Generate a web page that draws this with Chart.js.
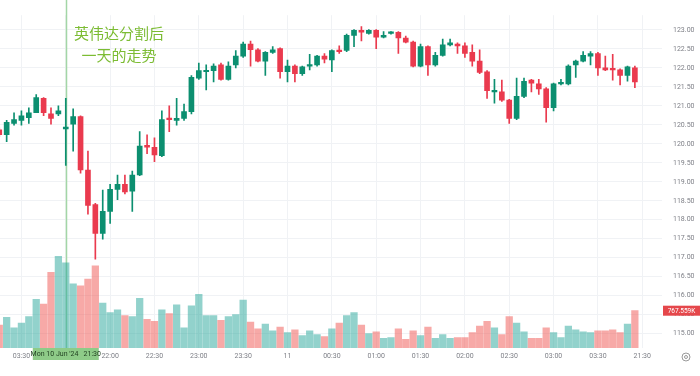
<!DOCTYPE html>
<html>
<head>
<meta charset="utf-8">
<script src="https://cdn.jsdelivr.net/npm/chart.js@4.4.1/dist/chart.umd.min.js"></script>
<style>
    html, body { margin: 0; padding: 0; background: #ffffff; }
    #wrap { position: relative; width: 700px; height: 376px; }
</style>
</head>
<body>
<div id="wrap"><canvas id="nvdaChart"></canvas></div>
<script>
const openPrices = [120.37, 120.24, 120.54, 120.62, 120.69, 120.82, 121.20, 120.79, 120.79, 120.39,
    120.52, 120.72, 119.31, 118.40, 117.64, 118.22, 118.80, 118.93, 118.75, 119.18,
    119.96, 119.91, 119.69, 120.67, 120.62, 120.67, 120.85, 121.73, 121.90, 121.93,
    122.08, 121.70, 122.08, 122.31, 122.63, 122.48, 122.18, 122.41, 122.51, 121.90,
    122.05, 121.85, 122.05, 122.08, 122.31, 122.21, 122.46, 122.46, 122.86, 122.99,
    122.91, 122.99, 122.81, 122.91, 122.94, 122.79, 122.68, 122.05, 122.56, 122.08,
    122.33, 122.61, 122.63, 122.58, 122.41, 122.18, 121.90, 121.37, 121.37, 121.15,
    120.67, 121.25, 121.68, 121.58, 121.45, 120.95, 121.58, 121.58, 122.08, 122.18,
    122.31, 122.38, 122.00, 121.98, 121.95, 121.80, 122.00];
const highPrices = [120.42, 120.62, 120.82, 120.87, 120.95, 121.30, 121.22, 120.95, 121.00, 121.20,
    120.92, 120.74, 119.81, 118.43, 118.78, 118.93, 119.18, 119.18, 119.28, 120.32,
    120.24, 120.16, 120.87, 121.00, 121.20, 121.05, 121.80, 122.13, 122.08, 122.11,
    122.13, 122.16, 122.46, 122.68, 122.71, 122.51, 122.43, 122.56, 122.53, 122.21,
    122.08, 122.05, 122.36, 122.33, 122.38, 122.48, 122.58, 122.89, 123.01, 123.09,
    123.01, 123.01, 122.96, 122.96, 122.96, 122.84, 122.71, 122.63, 122.58, 122.41,
    122.76, 122.76, 122.66, 122.66, 122.61, 122.48, 121.93, 121.70, 121.68, 121.17,
    121.73, 121.73, 121.70, 121.70, 121.48, 121.60, 121.70, 122.08, 122.21, 122.43,
    122.43, 122.41, 122.31, 122.36, 121.98, 122.05, 122.05];
const lowPrices = [120.19, 120.06, 120.49, 120.49, 120.54, 120.82, 120.74, 120.52, 120.74, 119.43,
    119.81, 119.23, 118.15, 116.96, 117.49, 117.90, 118.53, 118.68, 118.22, 119.16,
    119.74, 119.53, 119.66, 120.32, 120.49, 120.62, 120.79, 121.70, 121.42, 121.63,
    121.68, 121.68, 122.00, 122.28, 122.05, 122.16, 121.80, 122.38, 121.73, 121.63,
    121.63, 121.80, 121.95, 122.05, 122.13, 121.90, 122.38, 122.43, 122.56, 122.71,
    122.89, 122.51, 122.79, 122.89, 122.38, 122.66, 122.03, 122.03, 121.80, 122.05,
    122.31, 122.58, 122.38, 122.28, 122.05, 121.85, 121.20, 121.07, 121.12, 120.54,
    120.64, 121.22, 121.37, 121.30, 120.57, 120.87, 121.55, 121.55, 121.75, 122.16,
    122.08, 121.80, 121.93, 121.68, 121.55, 121.65, 121.48];
const closePrices = [120.24, 120.57, 120.64, 120.74, 120.82, 121.22, 120.82, 120.67, 120.87, 120.44,
    120.72, 119.31, 118.38, 117.64, 118.22, 118.80, 118.93, 118.73, 119.18, 119.94,
    119.91, 119.71, 120.64, 120.64, 120.67, 120.85, 121.75, 121.93, 121.93, 122.05,
    121.70, 122.05, 122.31, 122.63, 122.48, 122.18, 122.41, 122.48, 121.90, 122.05,
    121.85, 122.03, 122.08, 122.31, 122.23, 122.46, 122.43, 122.86, 122.99, 122.94,
    122.99, 122.81, 122.86, 122.94, 122.79, 122.68, 122.05, 122.56, 122.08, 122.33,
    122.61, 122.66, 122.58, 122.38, 122.18, 121.88, 121.40, 121.40, 121.15, 120.67,
    121.25, 121.65, 121.60, 121.45, 120.95, 121.58, 121.60, 122.05, 122.18, 122.33,
    122.38, 122.00, 121.95, 121.95, 121.80, 122.03, 121.63];
// volume in thousands of shares
const volumes = [472, 630, 413, 512, 649, 1004, 905, 1555, 1889, 1752,
    1319, 1279, 1417, 1692, 925, 728, 787, 669, 649, 1023,
    590, 551, 787, 708, 886, 413, 866, 1102, 669, 669,
    571, 649, 689, 984, 531, 394, 492, 354, 433, 315,
    374, 256, 354, 276, 236, 394, 512, 669, 728, 472,
    295, 335, 197, 216, 394, 177, 354, 256, 433, 197,
    276, 197, 216, 216, 315, 453, 551, 413, 276, 649,
    512, 335, 197, 197, 413, 315, 216, 453, 374, 335,
    315, 354, 354, 374, 315, 492, 767.559];

const tickSlots = [3, 9, 15, 21, 27, 33, 39, 45, 51, 57, 63, 69, 75, 81, 87];
const tickLabels = ['03:30', '', '22:00', '22:30', '23:00', '23:30', '11', '00:30',
    '01:00', '01:30', '02:00', '02:30', '03:00', '03:30', '21:30'];
const priceTicks = [115, 115.5, 116, 116.5, 117, 117.5, 118, 118.5, 119, 119.5,
    120, 120.5, 121, 121.5, 122, 122.5, 123];
const markerSlot = 9;
const markerLabel = "Mon 10 Jun '24   21:30";
const noteLines = ['英伟达分割后', '一天的走势'];

const upColor = '#0c8f70';
const downColor = '#ea3a4e';
const upVolColor = 'rgba(38, 166, 154, 0.5)';
const downVolColor = 'rgba(239, 83, 80, 0.5)';
const gridColor = '#f0f2f5';
const axisFont = { family: 'Roboto, "Liberation Sans", sans-serif', size: 7 };

const isUp = openPrices.map((o, i) => closePrices[i] >= o);

const overlayPlugin = {
    id: 'overlay',
    beforeDatasetsDraw(chart) {
        const c = chart.ctx;
        const x = Math.round(chart.scales.x.getPixelForValue(markerSlot)) + 0.5;
        c.save();
        c.strokeStyle = '#a3d6a6';
        c.lineWidth = 1.5;
        c.beginPath();
        c.moveTo(x, 0);
        c.lineTo(x, chart.chartArea.bottom);
        c.stroke();
        c.restore();
    },
    afterDraw(chart) {
        const c = chart.ctx;
        const area = chart.chartArea;
        const x = chart.scales.x.getPixelForValue(markerSlot);
        c.save();

        // time label of the marked candle
        c.fillStyle = '#8ecb88';
        c.fillRect(x - 33, area.bottom, 66, 12);
        c.fillStyle = '#1f3d1f';
        c.font = '7px Roboto, "Liberation Sans", sans-serif';
        c.textAlign = 'center';
        c.textBaseline = 'middle';
        c.fillText(markerLabel, x, area.bottom + 6.5);

        // note
        c.fillStyle = '#7cbc33';
        c.font = '15px "Noto Sans CJK SC", sans-serif';
        c.fillText(noteLines[0], 119, 33);
        c.fillText(noteLines[1], 119, 55);

        // last volume label
        const last = volumes[volumes.length - 1];
        const vy = chart.scales.yv.getPixelForValue(last);
        c.fillStyle = '#e5474b';
        c.fillRect(area.right + 1, vy - 5, 37, 10);
        c.fillStyle = '#ffffff';
        c.font = '6.5px Roboto, "Liberation Sans", sans-serif';
        c.fillText(last.toFixed(3) + 'K', area.right + 19.5, vy + 0.5);

        // settings icon
        c.strokeStyle = '#9a9a9a';
        c.lineWidth = 1;
        c.beginPath();
        c.arc(686, 357, 4, 0, Math.PI * 2);
        c.stroke();
        c.beginPath();
        c.arc(686, 357, 1.5, 0, Math.PI * 2);
        c.stroke();
        c.restore();
    }
};

const ctx = document.getElementById('nvdaChart').getContext('2d');
new Chart(ctx, {
    type: 'bar',
    data: {
        datasets: [{
            label: 'Body',
            data: openPrices.map((o, i) => ({ x: i, y: [o, closePrices[i]] })),
            backgroundColor: isUp.map(u => u ? upColor : downColor),
            barThickness: 5,
            minBarLength: 1.5,
            yAxisID: 'y',
            order: 1
        }, {
            label: 'Wick',
            data: lowPrices.map((l, i) => ({ x: i, y: [l, highPrices[i]] })),
            backgroundColor: isUp.map(u => u ? upColor : downColor),
            barThickness: 1,
            yAxisID: 'y',
            order: 2
        }, {
            label: 'Volume',
            data: volumes.map((v, i) => ({ x: i, y: v })),
            backgroundColor: isUp.map(u => u ? upVolColor : downVolColor),
            barThickness: 6.6,
            yAxisID: 'yv',
            order: 3
        }]
    },
    options: {
        responsive: true,
        maintainAspectRatio: false,
        animation: false,
        layout: { padding: 0 },
        datasets: { bar: { grouped: false } },
        plugins: {
            legend: { display: false },
            tooltip: { enabled: false }
        },
        scales: {
            x: {
                type: 'linear',
                min: 0.1,
                max: 89.67,
                offset: false,
                grid: { offset: false, color: gridColor, drawTicks: false },
                border: { display: false },
                afterBuildTicks: scale => {
                    scale.ticks = tickSlots.map(v => ({ value: v }));
                },
                afterFit: scale => { scale.height = 28; },
                ticks: {
                    autoSkip: false,
                    maxRotation: 0,
                    padding: 4,
                    color: '#7d7f86',
                    font: axisFont,
                    callback: value => tickLabels[tickSlots.indexOf(value)]
                }
            },
            y: {
                position: 'right',
                min: 114.62,
                max: 123.39,
                grid: { color: gridColor, drawTicks: false },
                border: { display: false },
                afterBuildTicks: scale => {
                    scale.ticks = priceTicks.map(v => ({ value: v }));
                },
                afterFit: scale => { scale.width = 38; },
                ticks: {
                    padding: 11,
                    color: '#7d7f86',
                    font: axisFont,
                    callback: value => Number(value).toFixed(2)
                }
            },
            yv: {
                display: false,
                min: 0,
                max: 6849
            }
        }
    },
    plugins: [overlayPlugin]
});
</script>
</body>
</html>
